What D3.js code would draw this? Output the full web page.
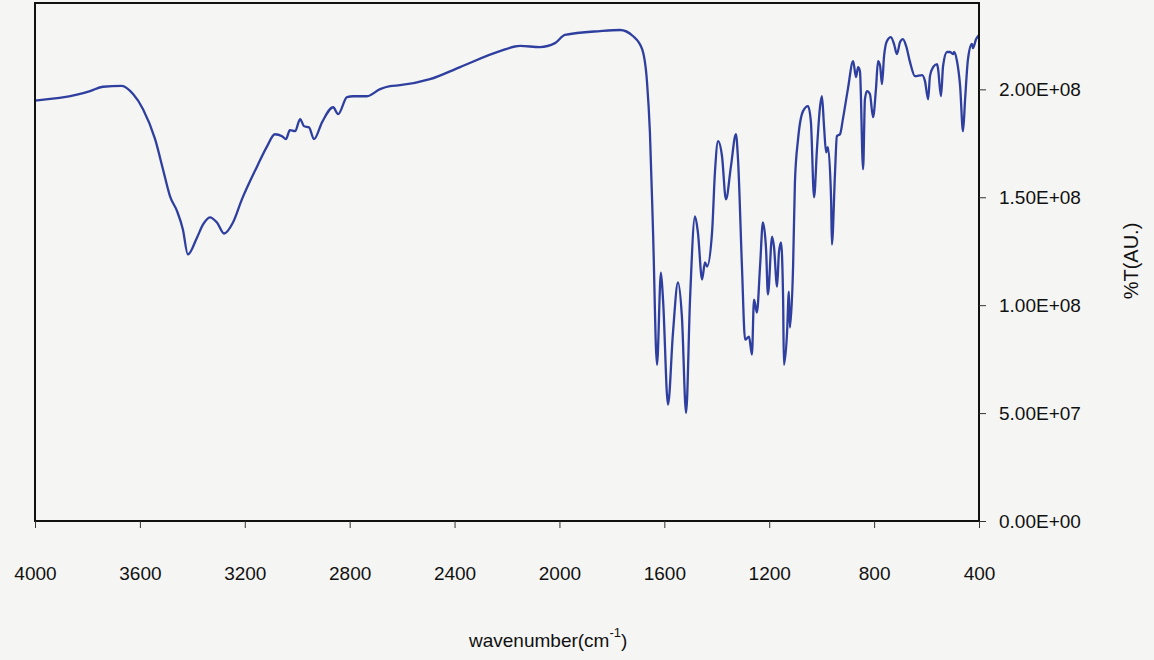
<!DOCTYPE html>
<html><head><meta charset="UTF-8">
<style>
  body { margin: 0; background: #f5f5f3; font-family: "Liberation Sans", Arial, sans-serif; }
  svg { display: block; }
</style>
</head>
<body>
<svg id="chart"></svg>
<script src="https://cdn.jsdelivr.net/npm/d3@7"></script>
<script>
// wavenumber (cm-1)
var wavenumbers = [4000,3840,3790,3741,3669,3626,3588,3542,3512,3485,3458,3436,3417,3382,3359,3333,3306,3279,3245,3211,3153,
  3115,3085,3058,3043,3028,3008,2989,2974,2955,2936,2905,2863,2844,2810,2787,2734,2684,2646,2608,2494,
  2379,2227,2150,2074,2017,1979,1845,1769,1720,1685,1666,1655,1643,1628,1613,1605,1586,1567,1548,1533,
  1517,1502,1483,1472,1456,1445,1437,1418,1407,1395,1380,1365,1346,1327,1319,1304,1292,1277,1266,1258,
  1247,1235,1224,1212,1205,1189,1182,1170,1163,1155,1147,1144,1132,1125,1121,1109,1102,1090,1071,1052,
  1041,1029,1018,1006,999,991,983,976,964,961,949,942,930,919,900,880,869,861,854,842,
  835,827,816,804,793,785,777,770,762,751,736,724,713,701,690,678,663,644,617,606,
  594,587,575,560,556,545,537,522,511,499,495,484,472,461,453,442,427,423,411,400];
// %T in units of 1e8
var transmittance = [1.948,1.975,1.992,2.012,2.016,1.978,1.908,1.769,1.630,1.504,1.435,1.351,1.235,1.314,1.374,1.407,1.383,1.332,1.383,1.490,1.643,
  1.736,1.792,1.783,1.769,1.811,1.806,1.862,1.829,1.824,1.769,1.848,1.917,1.885,1.964,1.968,1.968,2.001,2.015,2.019,2.047,
  2.103,2.177,2.201,2.196,2.214,2.252,2.270,2.275,2.247,2.187,2.033,1.801,1.337,0.724,1.151,1.026,0.539,0.873,1.105,0.947,
  0.501,1.026,1.411,1.337,1.119,1.198,1.179,1.337,1.616,1.760,1.690,1.490,1.643,1.792,1.676,1.179,0.840,0.854,0.771,1.026,
  0.966,1.179,1.383,1.258,1.049,1.318,1.272,1.086,1.244,1.291,1.026,0.724,0.873,1.063,0.896,1.179,1.569,1.769,1.899,1.922,
  1.848,1.500,1.722,1.922,1.968,1.829,1.708,1.732,1.490,1.281,1.616,1.783,1.792,1.862,2.001,2.131,2.057,2.103,2.084,1.630,
  1.954,1.992,1.978,1.871,2.001,2.131,2.108,2.024,2.154,2.224,2.242,2.210,2.163,2.219,2.233,2.201,2.126,2.061,2.066,2.038,
  1.954,2.061,2.103,2.117,2.094,1.968,2.108,2.173,2.173,2.163,2.173,2.131,2.015,1.806,1.954,2.140,2.210,2.191,2.233,2.252];
var xTicks = [4000,3600,3200,2800,2400,2000,1600,1200,800,400];
var yTicks = [0, 5e7, 1e8, 1.5e8, 2e8];

var width = 1154, height = 660;
var plot = {left: 35, right: 979, top: 3, bottom: 521};

var svg = d3.select("#chart").attr("width", width).attr("height", height);

var xScale = d3.scaleLinear().domain([4000, 400]).range([plot.left, plot.right]);
var yScale = d3.scaleLinear().domain([0, 2.4e8]).range([plot.bottom, plot.top]);

var data = wavenumbers.map(function (w, i) {
  return {w: w, t: transmittance[i] * 1e8};
});

// format like 2.00E+08
function sci(v) {
  if (v === 0) return "0.00E+00";
  var e = Math.floor(Math.log10(v));
  var m = v / Math.pow(10, e);
  return m.toFixed(2) + "E+" + (e < 10 ? "0" + e : e);
}

var line = d3.line()
  .x(function (d) { return xScale(d.w); })
  .y(function (d) { return yScale(d.t); })
  .curve(d3.curveMonotoneX);

svg.append("path")
  .datum(data)
  .attr("d", line)
  .attr("fill", "none")
  .attr("stroke", "#2f3f9f")
  .attr("stroke-width", 2.3)
  .attr("stroke-linejoin", "round");

// frame
svg.append("rect")
  .attr("x", plot.left).attr("y", plot.top)
  .attr("width", plot.right - plot.left).attr("height", plot.bottom - plot.top)
  .attr("fill", "none").attr("stroke", "#111").attr("stroke-width", 2);

var xAxis = d3.axisBottom(xScale).tickValues(xTicks).tickFormat(d3.format("d"))
  .tickSize(7).tickSizeOuter(0).tickPadding(39);
var gx = svg.append("g").attr("transform", "translate(0," + plot.bottom + ")").call(xAxis);
gx.select(".domain").remove();

var yAxis = d3.axisRight(yScale).tickValues(yTicks).tickFormat(sci).tickSize(7).tickSizeOuter(0).tickPadding(13);
var gy = svg.append("g").attr("transform", "translate(" + plot.right + ",0)").call(yAxis);
gy.select(".domain").remove();

svg.selectAll(".tick line").attr("stroke", "#333");
svg.selectAll(".tick text")
  .attr("font-family", "Liberation Sans, Arial, sans-serif")
  .attr("font-size", 19).attr("fill", "#111");

// axis titles
svg.append("text")
  .attr("transform", "translate(1138,261) rotate(-90)")
  .attr("text-anchor", "middle")
  .attr("font-size", 20).attr("fill", "#111")
  .text("%T(AU.)");

var xt = svg.append("text")
  .attr("x", 469).attr("y", 647)
  .attr("font-size", 19).attr("fill", "#111");
xt.append("tspan").text("wavenumber(cm");
xt.append("tspan").attr("dy", -10).attr("font-size", 13).text("-1");
xt.append("tspan").attr("dy", 10).text(")");
</script>
</body></html>
